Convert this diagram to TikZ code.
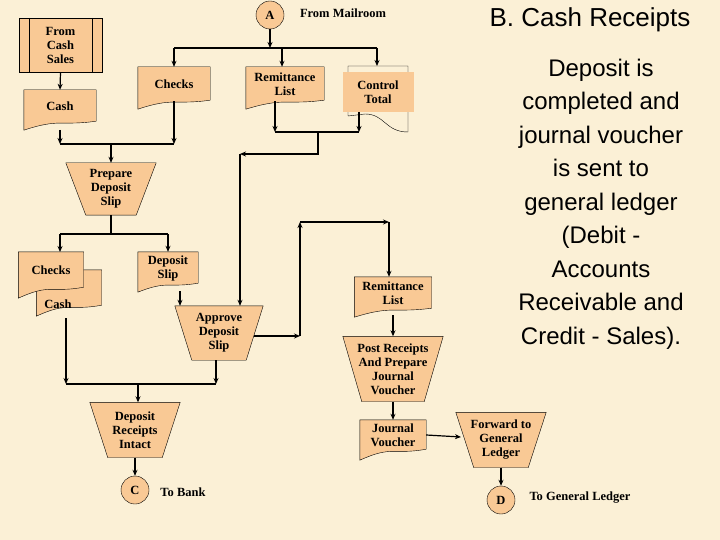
\documentclass[tikz,border=0pt]{standalone}
\usepackage{fontspec}
\setmainfont{Liberation Serif}
\newfontfamily\sansf{Liberation Sans}
\usepackage{tikz}
\usetikzlibrary{positioning,arrows.meta,backgrounds}
\definecolor{parch}{HTML}{FBF0D6}
\definecolor{peach}{HTML}{F9C995}
% document symbol and manual operation drawn round a plain node
\newcommand\docsym[2][4]{\draw[fill=peach] (#2.north west) -- (#2.north east) -- ([yshift=1pt]#2.south east)
  .. controls ([yshift=-#1pt]#2.south) and ([yshift=#1pt]#2.south) .. ([yshift=-2*#1pt]#2.south west) -- cycle;}
\newcommand\manop[2]{\draw[fill=peach] (#1.north west) -- (#1.north east) -- ([xshift=-#2pt]#1.south east) -- ([xshift=#2pt]#1.south west) -- cycle;}
\begin{document}
\begin{tikzpicture}[x=1pt,y=-1pt,
  font=\fontsize{12.5}{14}\selectfont\bfseries,
  box/.style={inner sep=0pt,align=center},
  conn/.style={circle,draw,fill=peach,minimum size=28pt,inner sep=0pt},
  arr/.style={line width=1.2pt,-{Stealth[length=6pt,width=5pt]}},
  ln/.style={line width=1.2pt}]
\begin{scope}[on background layer]
\fill[parch] (0,0) rectangle (720,540);
\end{scope}
\useasboundingbox (0,0) rectangle (720,540);

\node (A) [conn] at (270,15) {A};
\node (mail) at (343,13) {From Mailroom};
\node (sales) [box,draw,fill=peach,minimum width=83pt,minimum height=54pt] at (60.5,45) {From\\Cash\\Sales};
\draw ([xshift=10pt]sales.north west) -- ([xshift=10pt]sales.south west);
\draw ([xshift=-10pt]sales.north east) -- ([xshift=-10pt]sales.south east);

\node (cash1) [box,minimum width=72pt,minimum height=32pt] at (60,106) {Cash};
\node (checks1) [box,minimum width=72pt,minimum height=34pt] at (174,84) {Checks};
\node (remit1) [box,minimum width=78pt,minimum height=34pt] at (285,84) {Remittance\\List};
\node (ctrl) [box,fill=peach,minimum width=71pt,minimum height=40pt] at (378,92) {Control\\Total};
\node (prep) [box,minimum width=90pt,minimum height=52pt] at (111,189) {Prepare\\Deposit\\Slip};
\node (cash2) [box,minimum width=65pt,minimum height=36pt,
  label={[xshift=-11pt,yshift=-16pt]center:Cash}] at (69,288) {};
\node (checks2) [box,minimum width=65pt,minimum height=36pt] at (51,270) {Checks};
\node (dslip) [box,minimum width=60pt,minimum height=32pt] at (168,268) {Deposit\\Slip};
\node (appr) [box,minimum width=88pt,minimum height=54pt] at (219,333) {Approve\\Deposit\\Slip};
\node (remit2) [box,minimum width=77pt,minimum height=32pt] at (393,293) {Remittance\\List};
\node (post) [box,minimum width=100pt,minimum height=65pt] at (393,369) {Post Receipts\\And Prepare\\Journal\\Voucher};
\node (jv) [box,minimum width=66pt,minimum height=30pt] at (393,435) {Journal\\Voucher};
\node (fwd) [box,minimum width=90pt,minimum height=55pt] at (501,440) {Forward to\\General\\Ledger};
\node (recpt) [box,minimum width=90pt,minimum height=55pt] at (135,430) {Deposit\\Receipts\\Intact};
\node (C) [conn] at (135,490) {C};
\node (bank) at (183,492) {To Bank};
\node (D) [conn] at (501,500) {D};
\node (gl) at (580,498) {To General Ledger};

\begin{scope}[on background layer]
\docsym{cash1} \docsym{checks1} \docsym{remit1}
\draw (348,116) -- (348,66) -- (408,66) -- (408,132) .. controls (385,132) and (385,114) .. (365,114) -- (348,116);
\manop{prep}{20}
\docsym[5]{cash2} \docsym[5]{checks2} \docsym{dslip}
\manop{appr}{17} \docsym{remit2} \manop{post}{19} \docsym[5]{jv}
\manop{fwd}{18} \manop{recpt}{18}
\end{scope}

% from the mailroom
\coordinate (jA) at (270,48);
\coordinate (ctop) at (377,66);
\draw[arr] (A) -- (jA);
\draw[ln] (checks1.north |- jA) -- (ctop |- jA);
\draw[arr] (checks1.north |- jA) -- (checks1.north);
\draw[arr] ([xshift=-3pt]remit1.north |- jA) -- ([xshift=-3pt]remit1.north);
\draw[arr] (ctop |- jA) -- (ctop);
\draw[arr] (sales.south) -- (cash1.north);

% cash and checks to deposit slip
\coordinate (jB) at (111,144);
\coordinate (c1) at (60,130);
\draw[arr] (c1) -- (c1 |- jB);
\draw[arr] (checks1.south) -- (checks1.south |- jB);
\draw[ln] (c1 |- jB) -- (checks1.south |- jB);
\draw[arr] (jB) -- (prep.north);
\coordinate (jE) at (111,234);
\draw[ln] (prep.south) -- (jE);
\draw[ln] (60,234) -- (dslip.north |- jE);
\draw[arr] (60,234) -- (60,252);
\draw[arr] (dslip.north |- jE) -- (dslip.north);
\draw[arr] ([xshift=12pt,yshift=-7pt]dslip.south) -- ([xshift=12pt]dslip.south |- appr.north);

% remittance and control total
\coordinate (jC) at (318,132);
\coordinate (jD) at (318,154);
\coordinate (k1) at (240,154);
\draw[arr] ([xshift=-10pt]remit1.south) -- ([xshift=-10pt]remit1.south |- jC);
\draw[arr] (359,112) -- (359,132);
\draw[ln] (275,132) -- (359,132);
\draw[arr] (jC) -- (jD) -- (k1);
\draw[arr] (k1) -- (k1 |- appr.north);

% approved slip to posting
\coordinate (k2) at (300,336);
\coordinate (k3) at (300,222);
\coordinate (k4) at (389,222);
\draw[arr] (254,336) -- (k2);
\draw[arr] (k2) -- (k3);
\draw[arr] (k3) -- (k4);
\draw[arr] (k4) -- (k4 |- remit2.north);
\draw[arr] ([yshift=-6pt]remit2.south) -- (post.north);
\draw[arr] (post.south) -- (jv.north);
\draw[arr] (jv.east) -- (461,437);
\draw[arr] (fwd.south) -- (D);

% to the bank
\coordinate (jF) at (138,384);
\draw[arr] (66,318) -- (66,384);
\draw[arr] (216,360) -- (216,384);
\draw[ln] (66,384) -- (216,384);
\draw[arr] (jF) -- (jF |- recpt.north);
\draw[arr] (recpt.south -| C) -- (C);

% commentary
\node (title) [font=\sansf\fontsize{26}{30}\selectfont] at (590,20) {B. Cash Receipts};
\node (note) [font=\sansf\fontsize{24}{33.5}\selectfont,align=center] at (601,204)
  {Deposit is\\completed and\\journal voucher\\is sent to\\general ledger\\(Debit -\\Accounts\\Receivable and\\Credit - Sales).};
\end{tikzpicture}
\end{document}
